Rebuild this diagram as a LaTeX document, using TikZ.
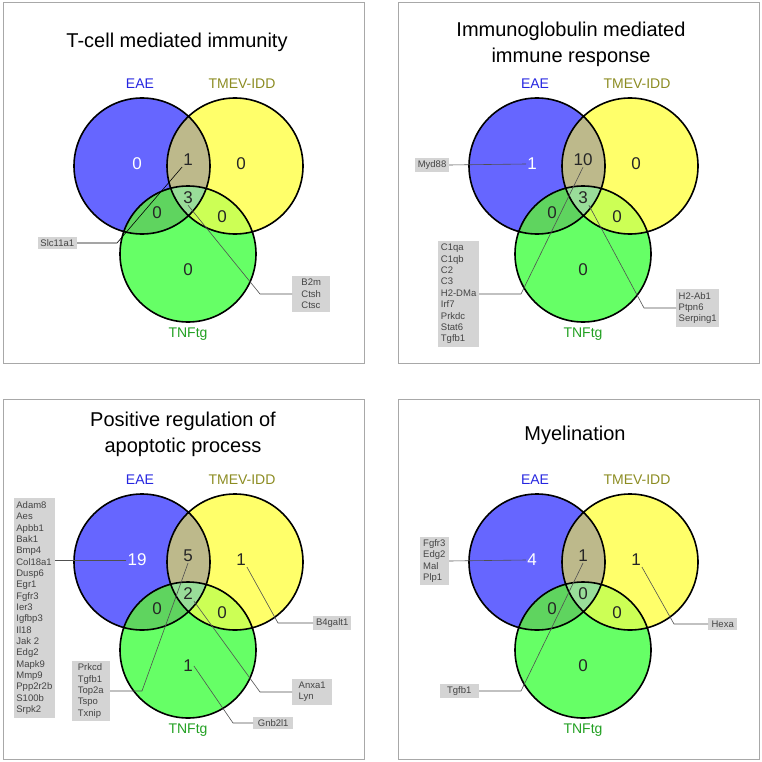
\documentclass[tikz,border=0pt]{standalone}
\usepackage{fontspec}
\setmainfont{Liberation Sans}
\definecolor{eaefill}{HTML}{6666FF}
\definecolor{tmfill}{HTML}{FFFF6A}
\definecolor{tnfill}{HTML}{66FF66}
\definecolor{abfill}{HTML}{BDB98B}
\definecolor{acfill}{HTML}{5FD45F}
\definecolor{bcfill}{HTML}{CCFF55}
\definecolor{abcfill}{HTML}{99DD99}
\definecolor{eaetext}{HTML}{2626E0}
\definecolor{tmtext}{HTML}{8C8C22}
\definecolor{tntext}{HTML}{22A022}
\definecolor{boxgray}{HTML}{D4D4D4}
\definecolor{genetext}{HTML}{444444}
\definecolor{framegray}{HTML}{A8A8A8}
\definecolor{leadgray}{HTML}{505050}
\tikzset{
  panelframe/.style={draw=framegray, line width=1pt},
  setline/.style={draw=black, line width=1.6pt},
  setlabel/.style={font=\fontsize{14}{16}\selectfont, inner sep=0pt},
  titletext/.style={font=\fontsize{20}{26}\selectfont, align=center, inner sep=0pt},
  count/.style={font=\fontsize{17}{19}\selectfont, text=black!85, inner sep=1pt},
  genebox/.style={fill=boxgray, text=genetext, font=\fontsize{9.5}{11.35}\selectfont,
    align=left, inner xsep=2.5pt, inner ysep=3pt},
  leader/.style={draw=leadgray, line width=0.6pt},
}
\begin{document}
\begin{tikzpicture}[x=1pt, y=-1pt]
\useasboundingbox (0,0) rectangle (762,762);

% panel frames
\foreach \dx/\dy in {0/0, 395/0, 0/396, 395/396}
  \draw[panelframe] (3+\dx,3+\dy) rectangle (364+\dx,363+\dy);

% the four Venn diagrams: EAE, TMEV-IDD, TNFtg
\foreach \p/\dx/\dy/\nA/\nAB/\nB/\nABC/\nAC/\nBC/\nC in
    {1/0/0/0/1/0/3/0/0/0, 2/395/0/1/10/0/3/0/0/0,
     3/0/396/19/5/1/2/0/0/1, 4/395/396/4/1/1/0/0/0/0}{
  \begin{scope}[shift={(\dx,\dy)}]
    \coordinate (ea\p) at (142,166);
    \coordinate (tm\p) at (235,166);
    \coordinate (tn\p) at (188,254);
    \fill[eaefill] (ea\p) circle[radius=68pt];
    \fill[tmfill] (tm\p) circle[radius=68pt];
    \fill[tnfill] (tn\p) circle[radius=68pt];
    \begin{scope}
      \clip (ea\p) circle[radius=68pt];
      \fill[abfill] (tm\p) circle[radius=68pt];
      \fill[acfill] (tn\p) circle[radius=68pt];
    \end{scope}
    \begin{scope}
      \clip (tm\p) circle[radius=68pt];
      \fill[bcfill] (tn\p) circle[radius=68pt];
      \clip (ea\p) circle[radius=68pt];
      \fill[abcfill] (tn\p) circle[radius=68pt];
    \end{scope}
    \draw[setline] (ea\p) circle[radius=68pt] (tm\p) circle[radius=68pt]
      (tn\p) circle[radius=68pt];
    \node[setlabel, text=eaetext] (eae\p) at (140,84) {EAE};
    \node[setlabel, text=tmtext] (tmev\p) at (242,84) {TMEV-IDD};
    \node[setlabel, text=tntext] (tnf\p) at (188,334) {TNFtg};
    \node[count, text=white] (a\p) at (137,164) {\nA};
    \node[count] (ab\p) at (188,160) {\nAB};
    \node[count] (b\p) at (241,164) {\nB};
    \node[count] (abc\p) at (188,198) {\nABC};
    \node[count] (ac\p) at (157,213) {\nAC};
    \node[count] (bc\p) at (222,217) {\nBC};
    \node[count] (c\p) at (188,270) {\nC};
  \end{scope}
}

% titles
\node[titletext] (title1) at (177,42) {T-cell mediated immunity};
\node[titletext] (title2) at (571,44) {Immunoglobulin mediated\\immune response};
\node[titletext] (title3) at (183,434) {Positive regulation of\\apoptotic process};
\node[titletext] (title4) at (575,435) {Myelination};

% gene lists, T-cell mediated immunity
\node[genebox, minimum width=39pt, anchor=east] (slc) at (77,243) {Slc11a1};
\draw[leader, draw=black] (slc.east) -- ++(40,0) -- (ab1.south west);
\node[genebox, minimum width=38pt, anchor=west] (b2m) at (292,294) {B2m\\Ctsh\\Ctsc};
\draw[leader] (b2m.west) -- ++(-32,0) -- (abc1.south);

% gene lists, immunoglobulin mediated immune response
\node[genebox, minimum width=31pt, anchor=east] (myd) at (449,165) {Myd88};
\draw[leader] (myd.east) -- (a2.west);
\node[genebox, minimum width=38pt, anchor=east] (c1q) at (479,294)
  {C1qa\\C1qb\\C2\\C3\\H2-DMa\\Irf7\\Prkdc\\Stat6\\Tgfb1};
\draw[leader] (c1q.east) -- ++(42,0) -- (ab2.south);
\node[genebox, anchor=west] (h2a) at (676,308) {H2-Ab1\\Ptpn6\\Serping1};
\draw[leader] (h2a.west) -- ++(-32,0) -- (abc2.south east);

% gene lists, positive regulation of apoptotic process
\node[genebox, anchor=east] (adam) at (55,608)
  {Adam8\\Aes\\Apbb1\\Bak1\\Bmp4\\Col18a1\\Dusp6\\Egr1\\Fgfr3\\Ier3\\Igfbp3\\Il18\\Jak 2\\Edg2\\Mapk9\\Mmp9\\Ppp2r2b\\S100b\\Srpk2};
\draw[leader] (a3.west) -- (a3.west -| adam.east);
\node[genebox, minimum width=38pt, anchor=east] (prk) at (110,691)
  {Prkcd\\Tgfb1\\Top2a\\Tspo\\Txnip};
\draw[leader] (prk.east) -- ++(32,0) -- (ab3.south);
\node[genebox, minimum width=38pt, anchor=west] (b4g) at (313,623) {B4galt1};
\draw[leader] (b4g.west) -- ++(-35,0) -- (b3.south east);
\node[genebox, minimum width=40pt, anchor=west] (anx) at (292,692) {Anxa1\\Lyn};
\draw[leader] (anx.west) -- ++(-32,0) -- (abc3.south east);
\node[genebox, minimum width=40pt, anchor=west] (gnb) at (253,723) {Gnb2l1};
\draw[leader] (gnb.west) -- ++(-20,0) -- (c3.east);

% gene lists, myelination
\node[genebox, minimum width=29pt, anchor=east] (fgf) at (449,561) {Fgfr3\\Edg2\\Mal\\Plp1};
\draw[leader] (fgf.east) -- (a4.west);
\node[genebox, minimum width=29pt, anchor=west] (hexa) at (708,624) {Hexa};
\draw[leader] (hexa.west) -- ++(-34,0) -- (b4.south east);
\node[genebox, minimum width=39pt, anchor=east] (tgf) at (479,691) {Tgfb1};
\draw[leader] (tgf.east) -- ++(42,0) -- (ab4.south);
\end{tikzpicture}
\end{document}
